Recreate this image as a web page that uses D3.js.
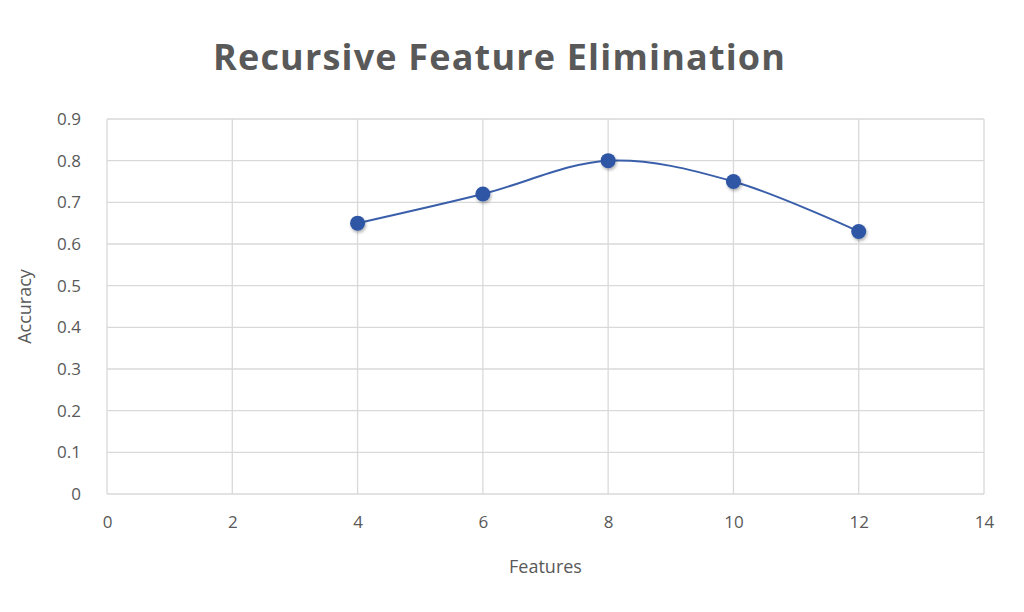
<!DOCTYPE html>
<html>
<head>
<meta charset="utf-8">
<script src="https://cdn.jsdelivr.net/npm/d3@7"></script>
<style>
  body { margin: 0; background: #fff; }
  text { font-family: "Open Sans", "Noto Sans", sans-serif; fill: #595959; }
</style>
</head>
<body>
<div id="chart"></div>
<script>
// data
const features = [4, 6, 8, 10, 12];
const accuracy = [0.65, 0.72, 0.80, 0.75, 0.63];
const xTicks = [0, 2, 4, 6, 8, 10, 12, 14];
const yTicks = [0, 0.1, 0.2, 0.3, 0.4, 0.5, 0.6, 0.7, 0.8, 0.9];

const W = 1024, H = 612;
const margin = {top: 119, right: 40, bottom: 118, left: 107};
const w = 984 - margin.left, h = 494 - margin.top;

const svg = d3.select("#chart").append("svg")
    .attr("width", W).attr("height", H);

// drop shadow for markers
const defs = svg.append("defs");
const f = defs.append("filter").attr("id", "shadow")
    .attr("x", "-50%").attr("y", "-50%").attr("width", "200%").attr("height", "200%");
f.append("feDropShadow").attr("dx", 1).attr("dy", 2).attr("stdDeviation", 1.5)
    .attr("flood-color", "#000").attr("flood-opacity", 0.3);

const g = svg.append("g").attr("transform", `translate(${margin.left},${margin.top})`);

const x = d3.scaleLinear().domain([0, 14]).range([0, w]);
const y = d3.scaleLinear().domain([0, 0.9]).range([h, 0]);

// gridlines
g.append("g").selectAll("line").data(yTicks).join("line")
    .attr("x1", 0).attr("x2", w)
    .attr("y1", d => y(d)).attr("y2", d => y(d))
    .attr("stroke", "#d9d9d9").attr("stroke-width", 1.3);
g.append("g").selectAll("line").data(xTicks).join("line")
    .attr("y1", 0).attr("y2", h)
    .attr("x1", d => x(d)).attr("x2", d => x(d))
    .attr("stroke", "#d9d9d9").attr("stroke-width", 1.3);

// axes (labels only)
const xAxis = g.append("g").attr("transform", `translate(0,${h})`)
    .call(d3.axisBottom(x).tickValues(xTicks).tickSize(0).tickPadding(22));
const yAxis = g.append("g")
    .call(d3.axisLeft(y).tickValues(yTicks).tickSize(0).tickPadding(26)
        .tickFormat(d => d === 0 ? "0" : d3.format(".1f")(d)));
[xAxis, yAxis].forEach(a => {
    a.select(".domain").remove();
    a.selectAll("text").style("font-size", "17px").attr("fill", "#595959");
});

// smoothed line
const line = d3.line()
    .x((d, i) => x(features[i]))
    .y(d => y(d))
    .curve(d3.curveCatmullRom.alpha(0));
g.append("path").datum(accuracy)
    .attr("d", line)
    .attr("fill", "none")
    .attr("stroke", "#3a5faa")
    .attr("stroke-width", 2);

g.selectAll(".dot").data(accuracy).join("circle")
    .attr("class", "dot")
    .attr("cx", (d, i) => x(features[i]))
    .attr("cy", d => y(d))
    .attr("r", 7.5)
    .attr("fill", "#2f56a5")
    .attr("filter", "url(#shadow)");

// titles
svg.append("text")
    .attr("x", 499).attr("y", 70)
    .attr("text-anchor", "middle")
    .attr("textLength", 572)
    .attr("lengthAdjust", "spacing")
    .style("font-size", "36px").style("font-weight", "bold")
    .text("Recursive Feature Elimination");

svg.append("text")
    .attr("x", margin.left + w / 2).attr("y", 573)
    .attr("text-anchor", "middle")
    .style("font-size", "18px")
    .text("Features");

svg.append("text")
    .attr("transform", `translate(31,${margin.top + h / 2}) rotate(-90)`)
    .attr("text-anchor", "middle")
    .style("font-size", "18px")
    .text("Accuracy");
</script>
</body>
</html>
